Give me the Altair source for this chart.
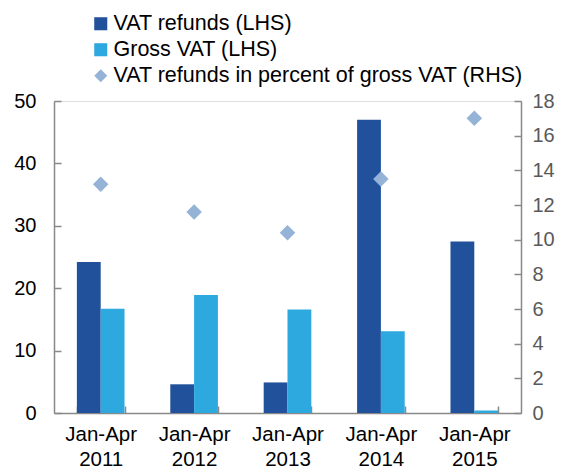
import altair as alt
import pandas as pd

periods = ["Jan-Apr 2011", "Jan-Apr 2012", "Jan-Apr 2013", "Jan-Apr 2014", "Jan-Apr 2015"]
vat_refunds = [24.2, 4.6, 4.9, 47.0, 27.5]
gross_vat = [16.7, 18.9, 16.6, 13.1, 0.4]
refund_pct = [13.2, 11.6, 10.4, 13.5, 17.0]

series_names = [
    "VAT refunds (LHS)",
    "Gross VAT (LHS)",
    "VAT refunds in percent of gross VAT (RHS)",
]
series_colors = ["#21519B", "#2DA9DF", "#95B3D7"]
series_shapes = ["square", "square", "diamond"]

left_ticks = [0, 10, 20, 30, 40, 50]
right_ticks = [0, 2, 4, 6, 8, 10, 12, 14, 16, 18]

bars_df = pd.DataFrame({
    "period": periods * 2,
    "series": [series_names[0]] * len(periods) + [series_names[1]] * len(periods),
    "value": vat_refunds + gross_vat,
})
pct_df = pd.DataFrame({
    "period": periods,
    "series": [series_names[2]] * len(periods),
    "value": refund_pct,
})

FONT = "Liberation Sans"
AXIS_GRAY = "#898989"

legend = alt.Legend(
    title=None,
    orient="none",
    legendX=36,
    legendY=-88,
    labelFontSize=21.5,
    labelFont=FONT,
    labelColor="black",
    symbolSize=170,
    symbolStrokeWidth=0,
    symbolOpacity=1,
    rowPadding=3,
    labelOffset=2,
    labelLimit=600,
)

color = alt.Color(
    "series:N",
    scale=alt.Scale(domain=series_names, range=series_colors),
    legend=legend,
)
shape = alt.Shape(
    "series:N",
    scale=alt.Scale(domain=series_names, range=series_shapes),
    legend=legend,
)

x = alt.X(
    "period:N",
    sort=periods,
    scale=alt.Scale(paddingInner=0.49, paddingOuter=0.245),
    axis=alt.Axis(
        title=None,
        labelAngle=0,
        labelExpr="split(datum.label, ' ')",
        labelFont=FONT,
        labelFontSize=20.5,
        labelColor="black",
        labelLineHeight=25,
        labelPadding=18,
        domainColor=AXIS_GRAY,
        domainWidth=1.5,
        tickColor=AXIS_GRAY,
        tickWidth=1.5,
        tickBand="extent",
        tickSize=alt.ExprRef("-7"),
    ),
)

bars = alt.Chart(bars_df).mark_bar().encode(
    x=x,
    xOffset=alt.XOffset("series:N", sort=series_names[:2], scale=alt.Scale(paddingInner=0, paddingOuter=0)),
    y=alt.Y(
        "value:Q",
        scale=alt.Scale(domain=[0, 50], nice=False),
        axis=alt.Axis(
            title=None,
            values=left_ticks,
            labelFont=FONT,
            labelFontSize=20,
            labelColor="black",
            labelPadding=25,
            grid=False,
            domainColor=AXIS_GRAY,
            domainWidth=1.5,
            tickColor=AXIS_GRAY,
            tickWidth=1.5,
            tickSize=alt.ExprRef("-7"),
        ),
    ),
    color=color,
)

points = alt.Chart(pct_df).mark_point(filled=True, size=240, opacity=1).encode(
    x=x,
    y=alt.Y(
        "value:Q",
        scale=alt.Scale(domain=[0, 18], nice=False),
        axis=alt.Axis(
            title=None,
            orient="right",
            values=right_ticks,
            labelFont=FONT,
            labelFontSize=20,
            labelColor="#595959",
            labelPadding=18,
            grid=False,
            domainColor=AXIS_GRAY,
            domainWidth=1.5,
            tickColor=AXIS_GRAY,
            tickWidth=1.5,
            tickSize=alt.ExprRef("-7"),
        ),
    ),
    color=color,
    shape=shape,
)

chart = (
    alt.layer(bars, points)
    .resolve_scale(y="independent")
    .properties(
        width=467,
        height=312,
        padding={"left": 5, "top": 5, "right": 2, "bottom": 0},
    )
    .configure_view(stroke=None)
    .configure(font=FONT)
)

chart.save("out.html", embed_options={"renderer": "svg", "actions": False})
